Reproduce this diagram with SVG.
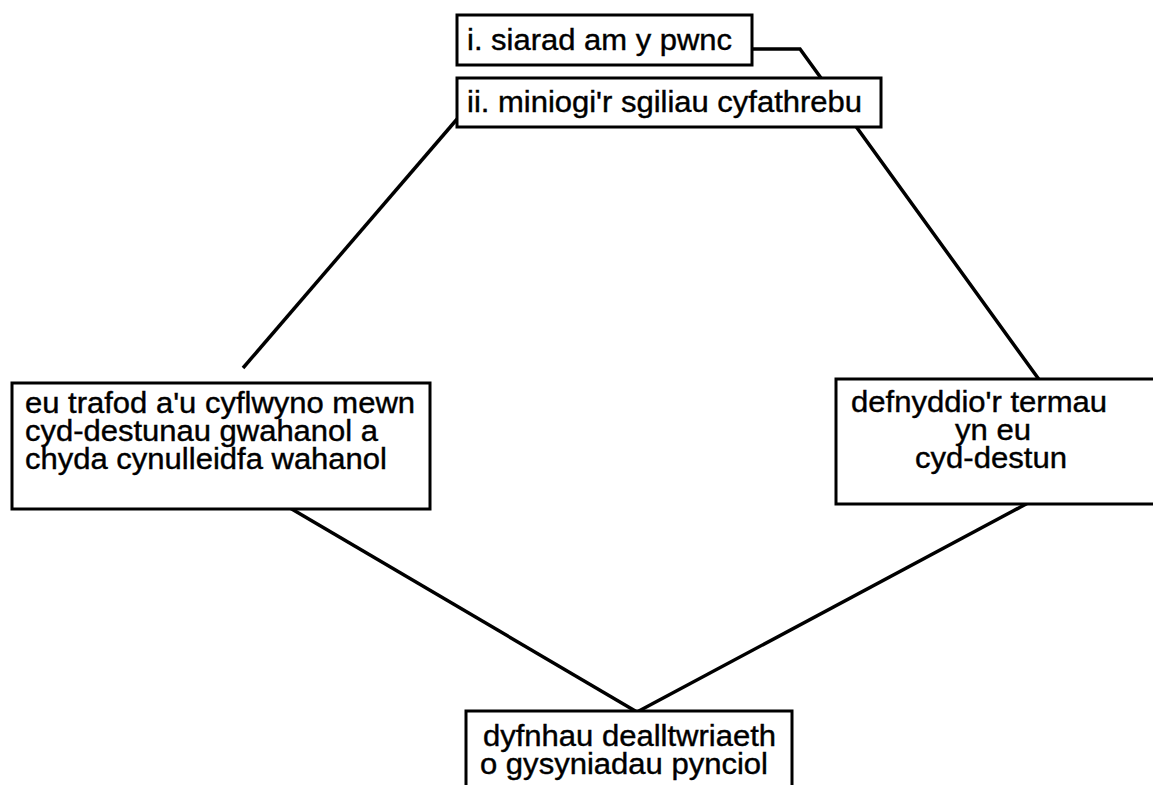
<svg xmlns="http://www.w3.org/2000/svg" width="1153" height="785" viewBox="0 0 1153 785">
  <style>
    .box { fill: #ffffff; stroke: #000000; stroke-width: 3; }
    .link { fill: none; stroke: #000000; stroke-width: 3.5; stroke-linejoin: miter; }
    .label { font-family: "Liberation Sans", Arial, sans-serif; font-size: 29px; fill: #000000; stroke: #000000; stroke-width: 0.4; }
  </style>
  <rect width="1153" height="785" fill="#ffffff"/>

  <!-- connectors (drawn first so boxes sit over them) -->
  <g id="connectors">
    <polyline class="link" points="752,49 800,49 1043,385"/>
    <line class="link" x1="458" y1="118" x2="243" y2="368"/>
    <line class="link" x1="290" y1="508" x2="637" y2="712"/>
    <line class="link" x1="1028" y1="503" x2="637" y2="712"/>
  </g>

  <g id="node-siarad">
    <rect class="box" x="457" y="15" width="295" height="50"/>
    <text class="label" x="467" y="50" textLength="265" lengthAdjust="spacingAndGlyphs">i. siarad am y pwnc</text>
  </g>

  <g id="node-sgiliau">
    <rect class="box" x="457" y="78" width="424" height="49"/>
    <text class="label" x="467" y="112" textLength="395" lengthAdjust="spacingAndGlyphs">ii. miniogi'r sgiliau cyfathrebu</text>
  </g>

  <g id="node-trafod">
    <rect class="box" x="12" y="383" width="418" height="126"/>
    <text class="label" x="25" y="413" textLength="390" lengthAdjust="spacingAndGlyphs">eu trafod a'u cyflwyno mewn</text>
    <text class="label" x="25" y="441" textLength="353" lengthAdjust="spacingAndGlyphs">cyd-destunau gwahanol a</text>
    <text class="label" x="25" y="469" textLength="362" lengthAdjust="spacingAndGlyphs">chyda cynulleidfa wahanol</text>
  </g>

  <g id="node-termau">
    <rect class="box" x="836" y="379" width="330" height="125"/>
    <text class="label" x="851" y="412" textLength="256" lengthAdjust="spacingAndGlyphs">defnyddio'r termau</text>
    <text class="label" x="955" y="440" textLength="76" lengthAdjust="spacingAndGlyphs">yn eu</text>
    <text class="label" x="915" y="468" textLength="152" lengthAdjust="spacingAndGlyphs">cyd-destun</text>
  </g>

  <g id="node-dealltwriaeth">
    <rect class="box" x="466" y="711" width="326" height="90"/>
    <text class="label" x="483" y="746" textLength="293" lengthAdjust="spacingAndGlyphs">dyfnhau dealltwriaeth</text>
    <text class="label" x="480" y="774" textLength="288" lengthAdjust="spacingAndGlyphs">o gysyniadau pynciol</text>
  </g>
</svg>
